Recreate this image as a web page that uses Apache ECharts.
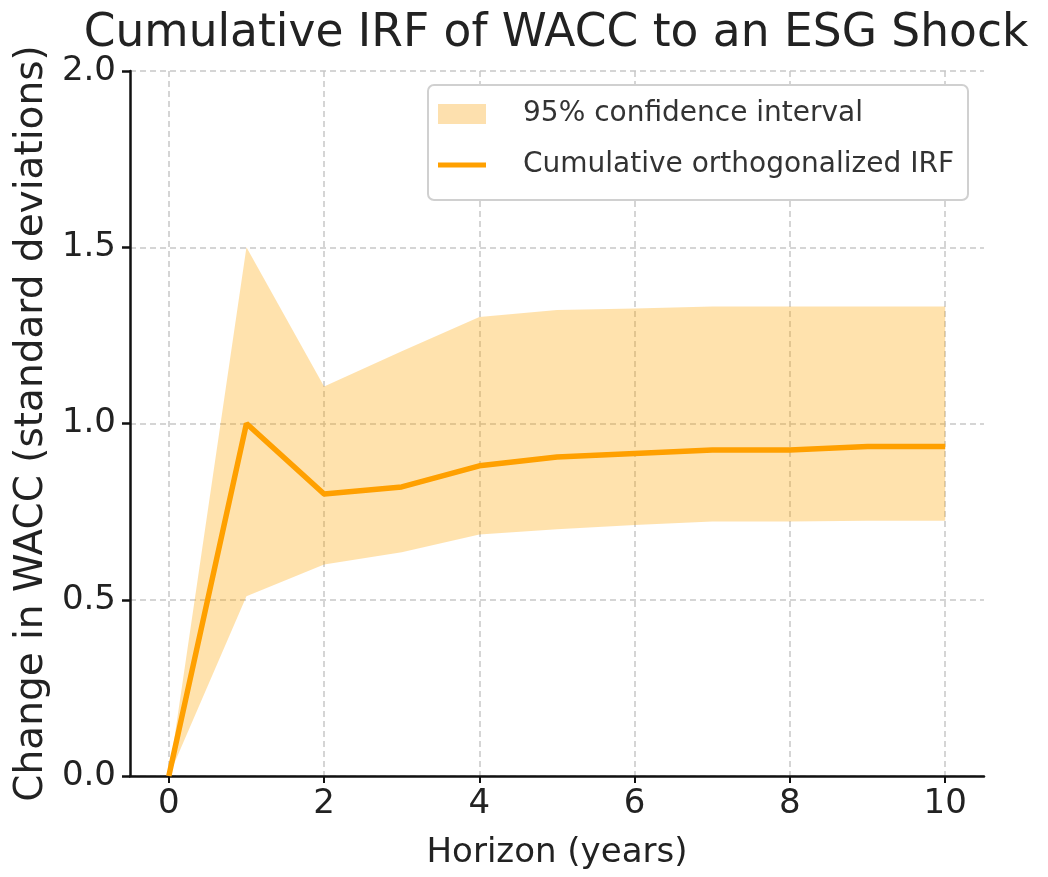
<!DOCTYPE html>
<html>
<head>
<meta charset="utf-8">
<script src="https://cdn.jsdelivr.net/npm/echarts@6/dist/echarts.min.js"></script>
<style>
  html, body { margin: 0; padding: 0; background: #fff; }
  #chart { width: 1048px; height: 877px; }
</style>
</head>
<body>
<div id="chart"></div>
<script>
// horizon in years
const horizon = ["0", "1", "2", "3", "4", "5", "6", "7", "8", "9", "10"];
// cumulative orthogonalized IRF
const irf = [0, 1.0, 0.8, 0.82, 0.88, 0.905, 0.915, 0.925, 0.925, 0.935, 0.935];
// 95% confidence bounds
const lower = [0, 0.51, 0.6, 0.635, 0.685, 0.7, 0.712, 0.722, 0.722, 0.724, 0.724];
const upper = [0, 1.5, 1.105, 1.205, 1.302, 1.322, 1.326, 1.332, 1.332, 1.332, 1.332];
const xTicks = [0, 2, 4, 6, 8, 10];

const bandWidth = upper.map((u, i) => +(u - lower[i]).toFixed(4));

const font = "'DejaVu Sans', sans-serif";
const textColor = "#222";
const fillColor = "rgba(255,165,0,0.32)";
const lineColor = "#ffa000";
const gridLine = { color: "#c8c8c8", type: [6, 4], width: 1.5 };

const chart = echarts.init(document.getElementById("chart"));
chart.setOption({
  animation: false,
  textStyle: { fontFamily: font },
  title: {
    text: "Cumulative IRF of WACC to an ESG Shock",
    left: 551,
    textAlign: "center",
    top: 6,
    textStyle: { fontFamily: font, fontSize: 45.5, fontWeight: "normal", color: textColor },
  },
  legend: {
    orient: "vertical",
    left: 428,
    top: 85,
    padding: [15, 14, 21, 10],
    itemGap: 23,
    itemWidth: 48,
    itemHeight: 20,
    borderColor: "#d0d0d0",
    borderWidth: 2,
    borderRadius: 6,
    backgroundColor: "#fff",
    textStyle: { fontFamily: font, fontSize: 28, lineHeight: 28, color: "#333", padding: [0, 0, 0, 32] },
    data: [
      { name: "95% confidence interval", icon: "rect", itemStyle: { color: "#fde0ae" } },
      { name: "Cumulative orthogonalized IRF", icon: "path://M0,0 H48 V5 H0 Z", itemStyle: { color: lineColor } },
    ],
  },
  grid: { left: 130, right: 64, top: 71, bottom: 101, containLabel: false },
  xAxis: [
    {
      // data axis: one slot per horizon, hidden
      type: "category",
      data: horizon,
      boundaryGap: true,
      show: false,
    },
    {
      // visible axis: ticks at even years
      type: "value",
      min: -0.5,
      max: 10.5,
      position: "bottom",
      name: "Horizon (years)",
      nameLocation: "middle",
      nameGap: 60,
      nameTextStyle: { fontFamily: font, fontSize: 34, color: textColor },
      axisLine: { onZero: false, lineStyle: { color: "#111", width: 2.5 } },
      axisTick: { customValues: xTicks, length: 7, lineStyle: { color: "#111", width: 2 } },
      axisLabel: { customValues: xTicks, fontSize: 34, color: textColor, margin: 11 },
      splitLine: { show: true, lineStyle: gridLine },
    },
  ],
  yAxis: {
    type: "value",
    min: 0,
    max: 2.0,
    interval: 0.5,
    name: "Change in WACC (standard deviations)",
    nameLocation: "middle",
    nameGap: 66,
    nameTextStyle: { fontFamily: font, fontSize: 39, color: textColor },
    axisLine: { show: true, onZero: false, lineStyle: { color: "#111", width: 2.5 } },
    axisTick: { show: true, length: 8, lineStyle: { color: "#111", width: 2.5 } },
    axisLabel: { fontSize: 34, color: textColor, margin: 14, formatter: (v) => v.toFixed(1) },
    splitLine: { show: true, lineStyle: gridLine },
  },
  series: [
    {
      name: "lower",
      type: "line",
      xAxisIndex: 0,
      data: lower,
      stack: "ci",
      symbol: "none",
      lineStyle: { opacity: 0 },
      silent: true,
    },
    {
      name: "95% confidence interval",
      type: "line",
      xAxisIndex: 0,
      data: bandWidth,
      stack: "ci",
      symbol: "none",
      lineStyle: { opacity: 0 },
      areaStyle: { color: fillColor, opacity: 1 },
      itemStyle: { color: "#fde0ae" },
      silent: true,
    },
    {
      name: "Cumulative orthogonalized IRF",
      type: "line",
      xAxisIndex: 0,
      data: irf,
      symbol: "none",
      lineStyle: { color: lineColor, width: 5.5 },
      itemStyle: { color: lineColor },
      z: 5,
    },
  ],
});
</script>
</body>
</html>
